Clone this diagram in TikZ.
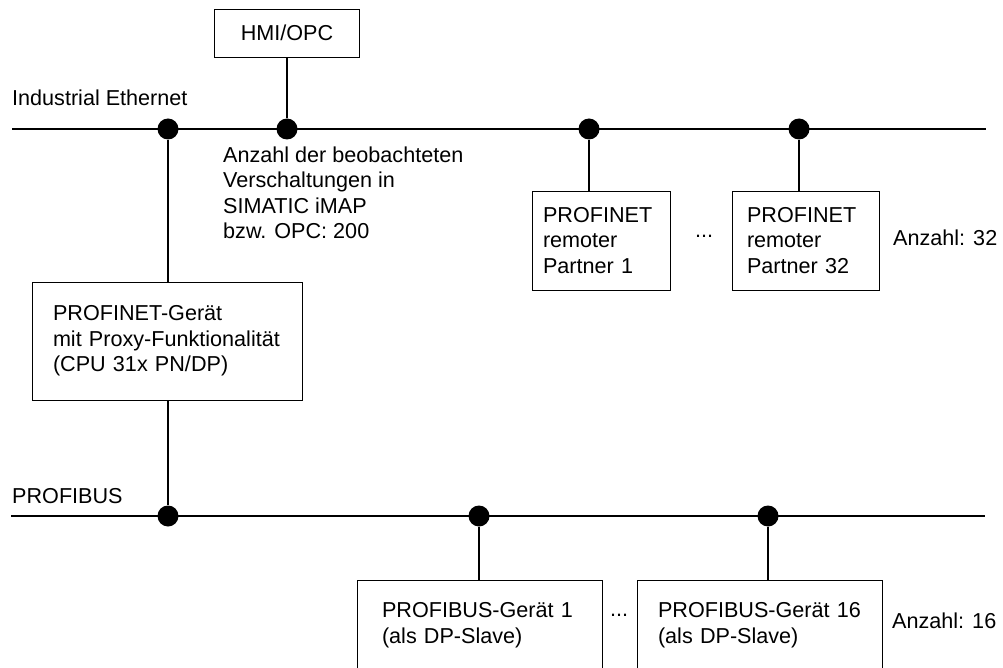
\documentclass[tikz,border=0pt]{standalone}
\usepackage{fontspec}
\setmainfont{Liberation Sans}
\begin{document}
\begin{tikzpicture}[x=1pt,y=-1pt,
  every node/.style={font=\fontsize{21.6}{25.5}\selectfont},
  bus/.style={line width=1.6pt},
  link/.style={line width=1.3pt},
  box/.style={draw, line width=0.8pt, inner ysep=0pt, align=left},
  tap/.style={circle, fill=black, inner sep=0pt, minimum size=21pt},
  lbl/.style={inner sep=0pt}]
\useasboundingbox (0,0) rectangle (1003,668);
\clip (0,0) rectangle (1003,668);
% buses
\coordinate (ieL) at (12,129);
\coordinate (ieR) at (986,129);
\coordinate (pbL) at (11,516);
\coordinate (pbR) at (985,516);
\draw[bus] (ieL) -- (ieR);
\draw[bus] (pbL) -- (pbR);
% boxes
\node[box, align=center, minimum width=145pt, minimum height=48pt, inner xsep=0pt] (hmi) at (287,33) {HMI/OPC};
\node[box, minimum width=270pt, minimum height=118pt, text width=228pt, inner xsep=21pt] (cpu) at (167,341)
  {PROFINET-Gerät\\mit Proxy-Funktionalität\\(CPU 31x PN/DP)};
\node[box, minimum width=138pt, minimum height=99pt, text width=116pt, inner xsep=11pt] (pn1) at (601,240.5)
  {PROFINET\\remoter\\Partner 1};
\node[box, minimum width=147pt, minimum height=99pt, text width=117pt, inner xsep=15pt] (pn32) at (805.5,240.5)
  {PROFINET\\remoter\\Partner 32};
\node[box, minimum width=245pt, minimum height=90pt, text width=195pt, inner xsep=25pt] (pb1) at (479.5,625)
  {PROFIBUS-Gerät 1\\(als DP-Slave)};
\node[box, minimum width=245pt, minimum height=90pt, text width=203pt, inner xsep=21pt] (pb16) at (759.5,625)
  {PROFIBUS-Gerät 16\\(als DP-Slave)};
% taps
\node[tap] (t1) at (168,129) {};
\node[tap] (t2) at (287,129) {};
\node[tap] (t3) at (589,129) {};
\node[tap] (t4) at (799,129) {};
\node[tap] (t5) at (168,516) {};
\node[tap] (t6) at (479,516) {};
\node[tap] (t7) at (768,516) {};
% connectors
\draw[link] (hmi.south) -- (t2);
\draw[link] (t1) -- (t1 |- cpu.north);
\draw[link] (cpu.south -| t5) -- (t5);
\draw[link] (t3) -- (t3 |- pn1.north);
\draw[link] (t4) -- (t4 |- pn32.north);
\draw[link] (t6) -- (t6 |- pb1.north);
\draw[link] (t7) -- (t7 |- pb16.north);
% labels
\node[lbl, anchor=base west] (lie) at (12,106) {Industrial Ethernet};
\node[lbl, anchor=base west] (lpb) at (12,503) {PROFIBUS};
\node[lbl, anchor=north west, align=left] (note) at (223,146.5)
  {Anzahl der beobachteten\\Verschaltungen in\\SIMATIC iMAP\\bzw. OPC: 200};
\node[lbl, anchor=base] (dots1) at (704,238) {...};
\node[lbl, anchor=base] (dots2) at (619,616) {...};
\node[lbl, anchor=base west] (n32) at (893,245) {Anzahl: 32};
\node[lbl, anchor=base west] (n16) at (892,628) {Anzahl: 16};
\end{tikzpicture}
\end{document}
